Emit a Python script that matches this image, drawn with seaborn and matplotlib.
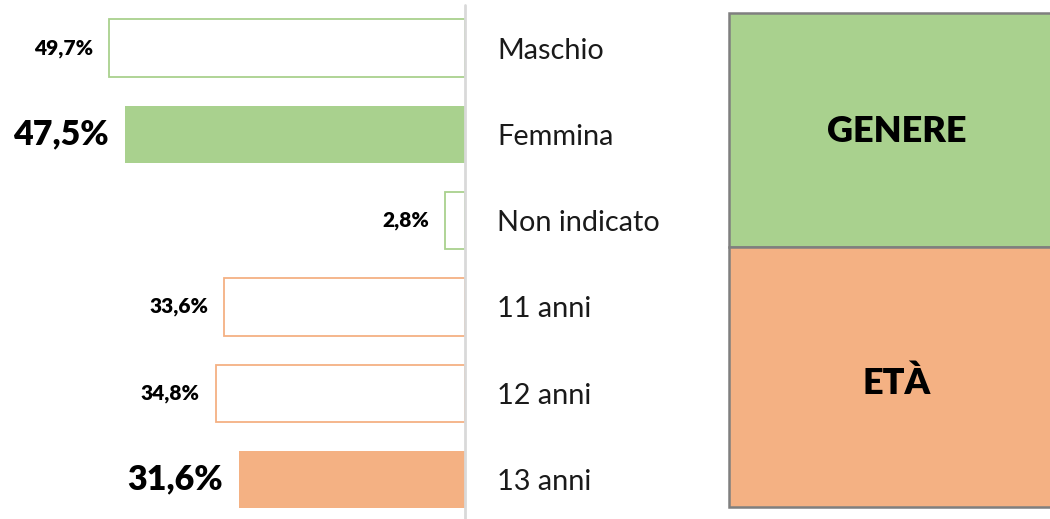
import matplotlib
matplotlib.use("Agg")
import matplotlib.pyplot as plt
import seaborn as sns
import pandas as pd
from matplotlib.patches import Rectangle

categories = ["Maschio", "Femmina", "Non indicato", "11 anni", "12 anni", "13 anni"]
values = [49.7, 47.5, 2.8, 33.6, 34.8, 31.6]
value_labels = ["49,7%", "47,5%", "2,8%", "33,6%", "34,8%", "31,6%"]
groups = ["GENERE", "GENERE", "GENERE", "ETÀ", "ETÀ", "ETÀ"]
filled = [False, True, False, False, False, True]
group_names = ["GENERE", "ETÀ"]

GREEN = "#a9d18e"
ORANGE = "#f4b183"
group_colors = {"GENERE": GREEN, "ETÀ": ORANGE}

sns.set_theme(style="white")
plt.rcParams["font.family"] = ["Lato", "DejaVu Sans"]

W, H = 1050, 519
fig = plt.figure(figsize=(W / 100, H / 100), dpi=100)
fig.patch.set_facecolor("white")

df = pd.DataFrame({"cat": categories, "val": values})

ax = fig.add_axes([0, 0, 465 / W, 1])
sns.barplot(data=df, x="val", y="cat", orient="h", ax=ax, width=0.665,
            color=GREEN, saturation=1)

for patch, g, f in zip(ax.patches, groups, filled):
    c = group_colors[g]
    if f:
        patch.set_facecolor(c)
        patch.set_edgecolor(c)
        patch.set_linewidth(0)
    else:
        patch.set_facecolor("white")
        patch.set_edgecolor(c)
        patch.set_linewidth(1.3)

px_per_unit = 7.16
ax.set_xlim(465 / px_per_unit, 0)
y0, step = 48, 86.3
ax.set_ylim((H - y0) / step, -y0 / step)

for sp in ax.spines.values():
    sp.set_visible(False)
ax.set_xticks([])
ax.set_xlabel("")
ax.set_ylabel("")
ax.yaxis.set_ticks_position("right")
ax.tick_params(axis="y", length=0, pad=23, labelsize=20.8, labelcolor="#1a1a1a")
for lab in ax.get_yticklabels():
    lab.set_ha("left")

ax.axvline(0, ymin=0, ymax=1 - 5 / H, color="#d9d9d9", lw=2, clip_on=False)

for i, (v, lab, f) in enumerate(zip(values, value_labels, filled)):
    ax.annotate(lab, xy=(v, i), xytext=(-16, 0), textcoords="offset pixels",
                ha="right", va="center", fontweight="heavy",
                fontsize=24.5 if f else 15, color="black", annotation_clip=False)

# Right legend box
bx = fig.add_axes([729 / W, (H - 507) / H, (1055 - 729) / W, (507 - 13) / H])
bx.set_xlim(0, 1)
bx.set_ylim(0, 1)
bx.axis("off")
div = (507 - 247) / (507 - 13)
bx.add_patch(Rectangle((0, div), 1, 1 - div, facecolor=GREEN, edgecolor="#7f7f7f", lw=1.8, clip_on=False))
bx.add_patch(Rectangle((0, 0), 1, div, facecolor=ORANGE, edgecolor="#7f7f7f", lw=1.8, clip_on=False))
cx = (897 - 729) / (1055 - 729)
bx.text(cx, (507 - 131) / (507 - 13), group_names[0], ha="center", va="center",
        fontsize=26, fontweight="heavy", color="black")
bx.text(cx, (507 - 383) / (507 - 13), group_names[1], ha="center", va="center",
        fontsize=26, fontweight="heavy", color="black")

fig.savefig("out.png", dpi=100, facecolor="white")
